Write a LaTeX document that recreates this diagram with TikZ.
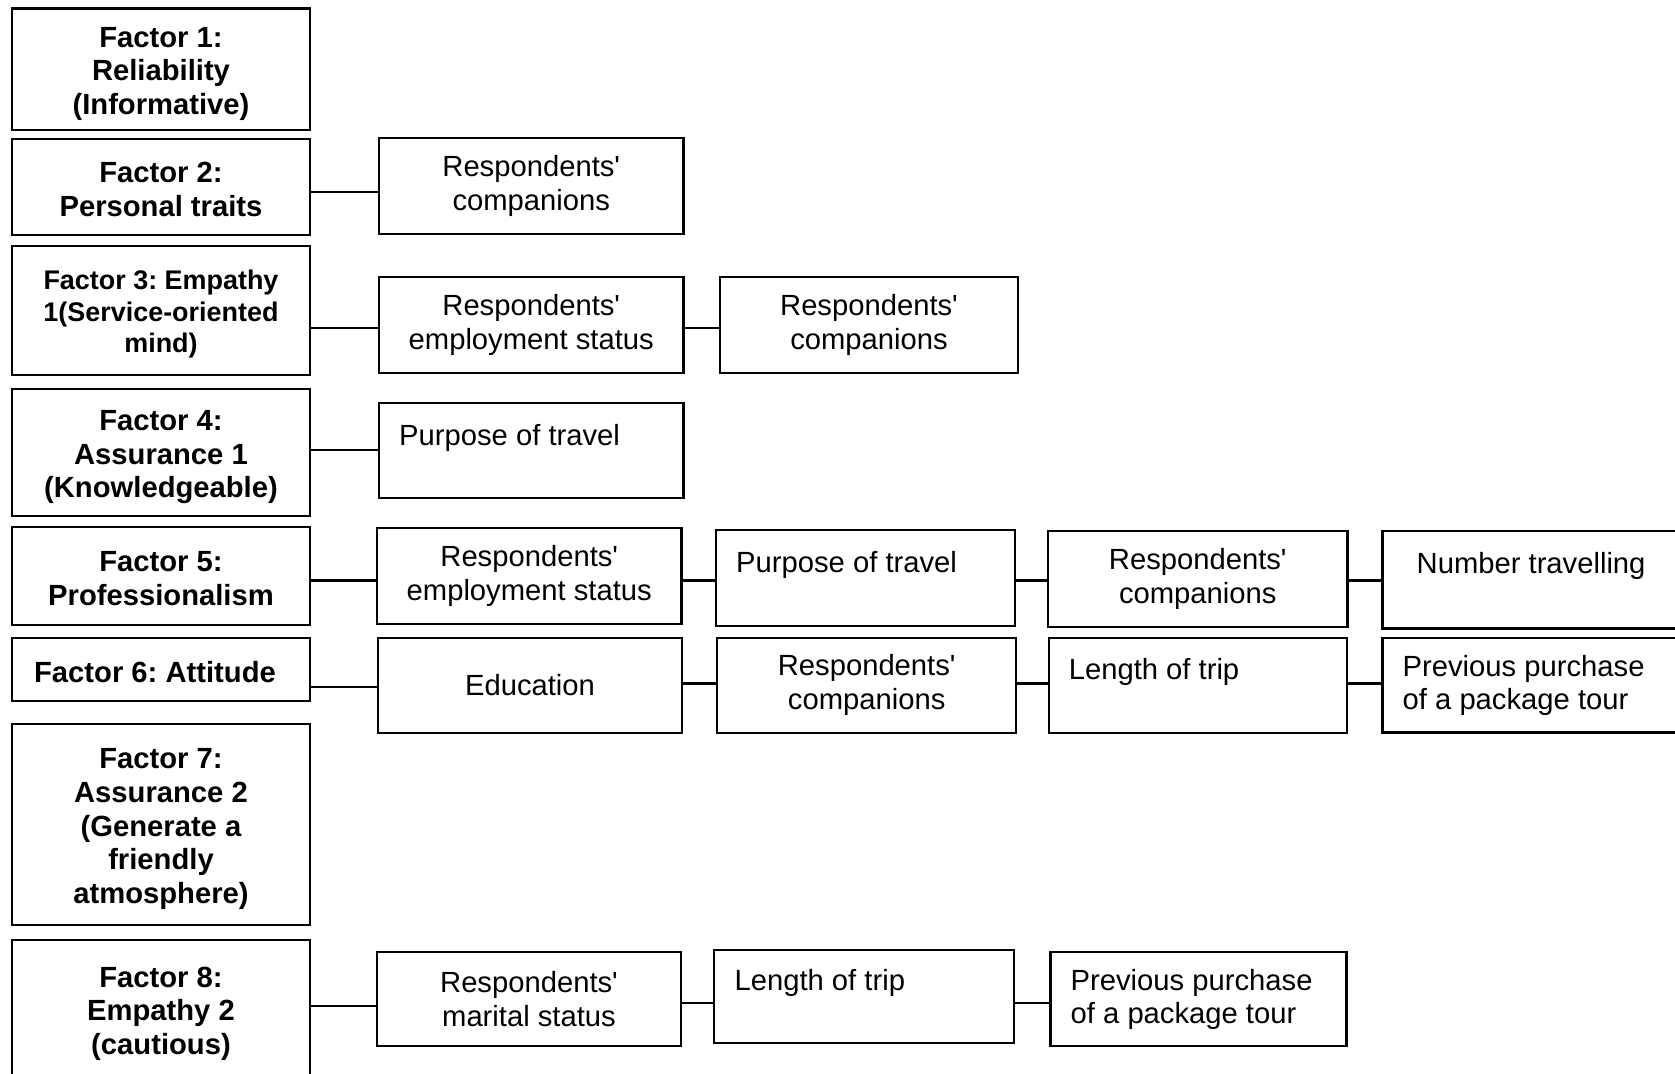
\documentclass[tikz,border=0pt]{standalone}
\usepackage{fontspec}
\setmainfont{Liberation Sans}
\usetikzlibrary{calc}
\newcommand{\sq}{\textquotesingle}
% invisible strut that lowers the first line of a factor label a little
\newcommand{\topstrut}[1]{\rule{0pt}{#1}}
\begin{document}
\frenchspacing
\begin{tikzpicture}[x=0.75pt,y=-0.75pt,
  txtfont/.style={font=\fontsize{21.9}{25.2}\selectfont},
  % a box given by its corners (x1,y1) and (x2,y2)
  rect/.style n args={4}{minimum width={(#3-#1)*0.75pt}, minimum height={(#4-#2)*0.75pt},
    at={({(#1+#3)/2},{(#2+#4)/2})}},
  box/.style={draw, line width=1.6pt, inner sep=0pt, align=center, txtfont},
  factor/.style={box, font=\bfseries\fontsize{21.9}{25.2}\selectfont},
  lbl/.style={anchor=base west, inner sep=0pt, align=left, txtfont},
  link/.style={line width=1.6pt}]
\useasboundingbox (0,0) rectangle (1675,1074);
\clip (0,0) rectangle (1675,1074);

% factor column
\node[factor, rect={12}{8.5}{310}{130}] (f1) {\topstrut{22pt}Factor 1:\\Reliability\\(Informative)};
\node[factor, rect={12}{139}{310}{235}] (f2) {\topstrut{19pt}Factor 2:\\Personal traits};
\node[factor, rect={12}{246}{310}{375}, font=\bfseries\fontsize{20.2}{23.6}\selectfont] (f3) {\topstrut{20pt}Factor 3: Empathy\\1(Service-oriented\\mind)};
\node[factor, rect={12}{389}{310}{516}] (f4) {\topstrut{22pt}Factor 4:\\Assurance 1\\(Knowledgeable)};
\node[factor, rect={12}{527}{310}{625}] (f5) {\topstrut{19pt}Factor 5:\\Professionalism};
\node[factor, rect={12}{638}{310}{701}] (f6) {\hbox{\topstrut{19pt}Factor 6: Attitude\hspace{9pt}}};
\node[factor, rect={12}{724}{310}{925}] (f7) {\topstrut{22pt}Factor 7:\\Assurance 2\\(Generate a\\friendly\\atmosphere)};
\node[factor, rect={12}{940}{310}{1080}] (f8) {\topstrut{21pt}Factor 8:\\Empathy 2\\(cautious)};

% row 2
\node[box, rect={379}{138}{683.5}{234}] (c2) {Respondents\sq\\companions};

% row 3
\node[box, rect={379}{277}{683.5}{373}] (c3a) {Respondents\sq\\employment status};
\node[box, rect={720}{277}{1018}{373}] (c3b) {Respondents\sq\\companions};

% row 4
\node[box, rect={379}{403}{683.5}{498}] (c4) {};
\node[lbl] (t4) at ($(c4.north west)+(21,44)$) {Purpose of travel};

% row 5
\node[box, rect={377}{528}{681.5}{624}] (c5a) {Respondents\sq\\employment status};
\node[box, rect={716}{530}{1015}{626}] (c5b) {};
\node[lbl] (t5b) at ($(c5b.north west)+(21,44)$) {Purpose of travel};
\node[box, rect={1048}{531}{1347.5}{627}] (c5c) {Respondents\sq\\companions};
\node[box, rect={1382.5}{531}{1700}{628.5}] (c5d) {};
\node[lbl] (t5d) at ($(c5d.north west)+(35,44)$) {Number travelling};

% row 6
\node[box, rect={378}{637.7}{682}{732.7}] (c6a) {Education};
\node[box, rect={717.4}{637.7}{1016}{732.7}] (c6b) {Respondents\sq\\companions};
\node[box, rect={1048.6}{637.7}{1347}{732.7}] (c6c) {};
\node[lbl] (t6c) at ($(c6c.north west)+(21,43)$) {Length of trip};
\node[box, rect={1382.5}{637.7}{1700}{732.5}] (c6d) {};
\node[lbl] (t6d) at ($(c6d.north west)+(21,73)$) {Previous purchase\\of a package tour};

% row 8
\node[box, rect={377}{952.3}{681}{1045.7}] (c8a) {Respondents\sq\\marital status};
\node[box, rect={714.4}{950}{1014}{1043.3}] (c8b) {};
\node[lbl] (t8b) at ($(c8b.north west)+(21,42)$) {Length of trip};
\node[box, rect={1050.5}{951.7}{1346.5}{1045.7}] (c8c) {};
\node[lbl] (t8c) at ($(c8c.north west)+(21,73)$) {Previous purchase\\of a package tour};

% connector heights
\coordinate (r2) at (0,192.3);
\coordinate (r3) at (0,328.3);
\coordinate (r4) at (0,450);
\coordinate (r5) at (0,580.5);
\coordinate (r6) at (0,687.3);
\coordinate (r6b) at (0,683.5);
\coordinate (r8) at (0,1005.7);
\coordinate (r8b) at (0,1003.3);

% connectors
\draw[link] (f2.east |- r2) -- (c2.west |- r2);
\draw[link] (f3.east |- r3) -- (c3a.west |- r3);
\draw[link] (c3a.east |- r3) -- (c3b.west |- r3);
\draw[link] (f4.east |- r4) -- (c4.west |- r4);
\draw[link] (f5.east |- r5) -- (c5a.west |- r5);
\draw[link] (c5a.east |- r5) -- (c5b.west |- r5);
\draw[link] (c5b.east |- r5) -- (c5c.west |- r5);
\draw[link] (c5c.east |- r5) -- (c5d.west |- r5);
\draw[link] (f6.east |- r6) -- (c6a.west |- r6);
\draw[link] (c6a.east |- r6b) -- (c6b.west |- r6b);
\draw[link] (c6b.east |- r6b) -- (c6c.west |- r6b);
\draw[link] (c6c.east |- r6b) -- (c6d.west |- r6b);
\draw[link] (f8.east |- r8) -- (c8a.west |- r8);
\draw[link] (c8a.east |- r8b) -- (c8b.west |- r8b);
\draw[link] (c8b.east |- r8b) -- (c8c.west |- r8b);
\end{tikzpicture}
\end{document}
